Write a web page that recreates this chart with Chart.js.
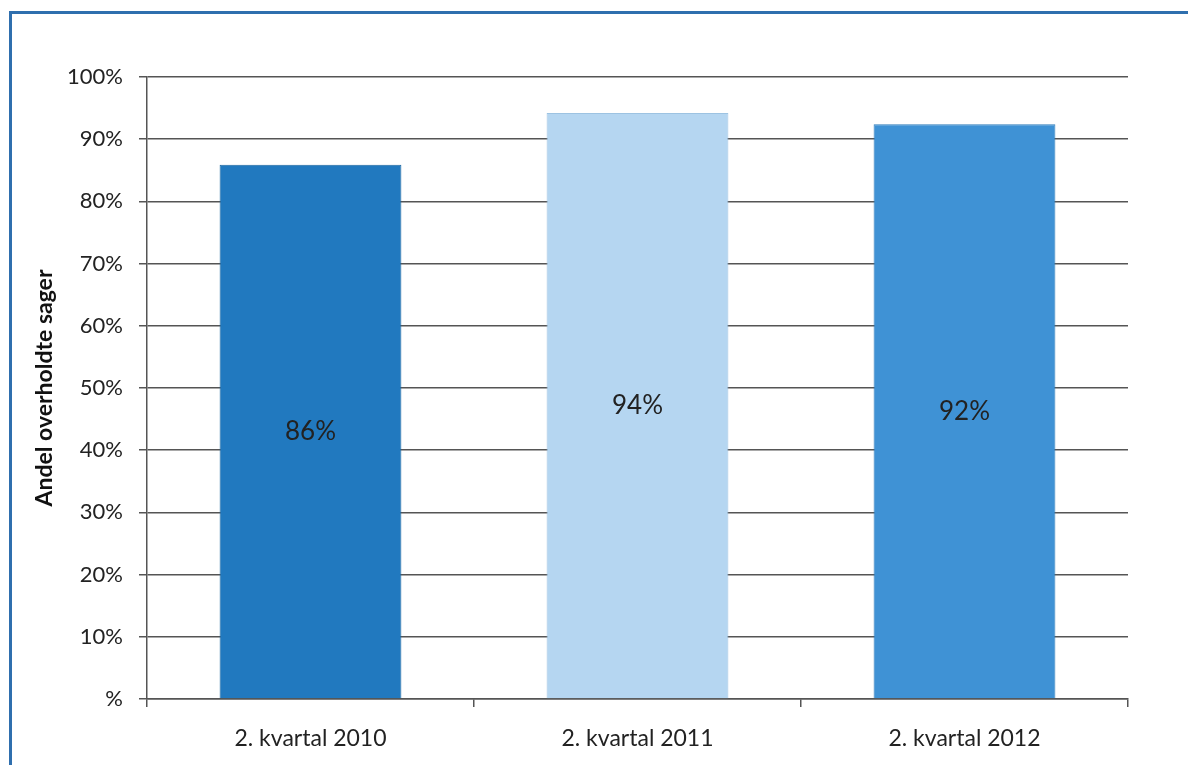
<!DOCTYPE html>
<html>
<head>
<meta charset="utf-8">
<script src="https://cdn.jsdelivr.net/npm/chart.js@4/dist/chart.umd.min.js"></script>
<style>
  html, body { margin: 0; padding: 0; background: #fff; overflow: hidden; }
  #wrap { position: relative; width: 1188px; height: 765px; }
  #frame {
    position: absolute; left: 9px; top: 11px; width: 1300px; height: 900px;
    border-left: 3px solid #2f6fae; border-top: 3px solid #2f6fae;
  }
  canvas { position: absolute; left: 0; top: 0; }
</style>
</head>
<body>
<div id="wrap">
  <div id="frame"></div>
  <canvas id="myChart" width="1188" height="765"></canvas>
</div>
<script>
// data
const categories = ["2. kvartal 2010", "2. kvartal 2011", "2. kvartal 2012"];
const shares = [85.9, 94.2, 92.4];
const barColors = ["#2179bf", "#b5d6f1", "#3f92d5"];
const yTicks = [0, 10, 20, 30, 40, 50, 60, 70, 80, 90, 100];

const fontFam = "Lato, 'Open Sans', sans-serif";

// writes the percentage in the middle of each bar
const barLabels = {
   id: "barLabels",
   afterDatasetsDraw(chart) {
      const ctx = chart.ctx;
      const meta = chart.getDatasetMeta(0);
      ctx.save();
      ctx.font = "26px " + fontFam;
      ctx.fillStyle = "#222";
      ctx.textAlign = "center";
      ctx.textBaseline = "middle";
      meta.data.forEach((bar, i) => {
         const midY = (bar.y + bar.base) / 2;
         ctx.fillText(Math.round(shares[i]) + "%", bar.x, midY);
      });
      ctx.restore();
   },
};

const ctx = document.getElementById("myChart");
new Chart(ctx, {
   type: "bar",
   data: {
      labels: categories,
      datasets: [
         {
            data: shares,
            backgroundColor: barColors,
            borderColor: ["#1a669f", "#9dc3e2", "#2f7dbb"],
            borderWidth: 1,
            categoryPercentage: 0.556,
            barPercentage: 1,
         },
      ],
   },
   plugins: [barLabels],
   options: {
      responsive: false,
      animation: false,
      layout: { padding: { left: 20, right: 60, top: 77, bottom: 0 } },
      plugins: { legend: { display: false }, tooltip: { enabled: false } },
      scales: {
         x: {
            grid: { drawOnChartArea: false, drawTicks: true, tickLength: 8, color: "#555", lineWidth: 1.5 },
            border: { color: "#555", width: 1.5 },
            ticks: { color: "#222", padding: 18, font: { size: 23, family: fontFam } },
            afterFit(scale) { scale.height = 66; },
         },
         y: {
            min: 0,
            max: 100,
            afterBuildTicks(scale) { scale.ticks = yTicks.map((v) => ({ value: v })); },
            grid: { color: "#555", lineWidth: 1.5, tickLength: 8 },
            border: { color: "#555", width: 1.5 },
            ticks: {
               color: "#222",
               padding: 16,
               font: { size: 22, family: fontFam },
               callback: (v) => (v === 0 ? "%" : v + "%"),
            },
            title: {
               display: true,
               text: "Andel overholdte sager",
               color: "#111",
               font: { size: 23, weight: "bold", family: fontFam },
               padding: { top: 11, bottom: 0 },
            },
            afterFit(scale) { scale.width = 127; },
         },
      },
   },
});
</script>
</body>
</html>
